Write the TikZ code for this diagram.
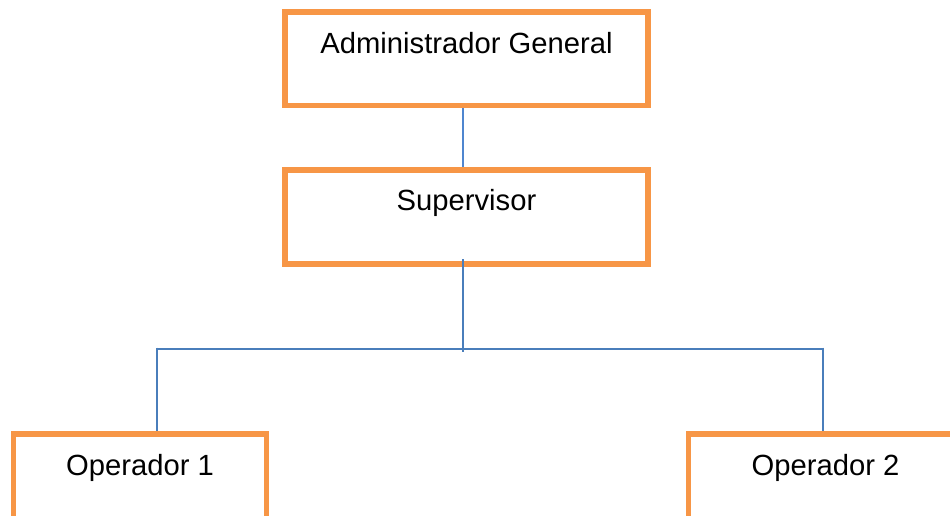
\documentclass[tikz,border=0pt]{standalone}
\usepackage{fontspec}
\setmainfont{Liberation Sans}
\definecolor{boxorange}{HTML}{F79646}
\definecolor{linkblue}{HTML}{4A7EBB}
\definecolor{lightblue}{HTML}{4F86CF}
\begin{document}
\begin{tikzpicture}[x=1pt,y=-1pt,
  orgbox/.style={draw=boxorange, line width=5.5pt, fill=white, rectangle, inner sep=0pt, outer sep=0pt,
    font=\fontsize{29.2}{35}\selectfont},
  link/.style={draw=linkblue, line width=1.3pt},
  thinlink/.style={draw=lightblue, line width=1.1pt}]
\useasboundingbox (0,0) rectangle (950,515);
\clip (0,0) rectangle (950,515);
\fill[white] (0,0) rectangle (950,515);
\node[orgbox, minimum width=363pt, text height=41pt, text depth=52.5pt, anchor=north] (admin) at (466.5,12) {Administrador General};
\node[orgbox, minimum width=363pt, text height=40pt, text depth=54pt, anchor=north] (sup) at (466.5,170) {Supervisor};
\node[orgbox, minimum width=253pt, text height=41pt, text depth=60pt, anchor=north] (op1) at (140,434) {Operador 1};
\node[orgbox, minimum width=274pt, text height=41pt, text depth=60pt, anchor=north] (op2) at (825.5,434) {Operador 2};
\coordinate (j) at (463,352);
\coordinate (hl) at (157,349);
\coordinate (hr) at (823,349);
\draw[thinlink] ([yshift=-2.75pt]admin.south -| j) -- ([yshift=2.75pt]sup.north -| j);
\draw[link] ([yshift=5pt]sup.south -| j) -- (j);
\draw[link] (hl) -- (hr);
\draw[link] ([yshift=1.5pt]hl) -- ([yshift=2.75pt]hl |- op1.north);
\draw[link] ([yshift=1.5pt]hr) -- ([yshift=2.75pt]hr |- op2.north);
\end{tikzpicture}
\end{document}
